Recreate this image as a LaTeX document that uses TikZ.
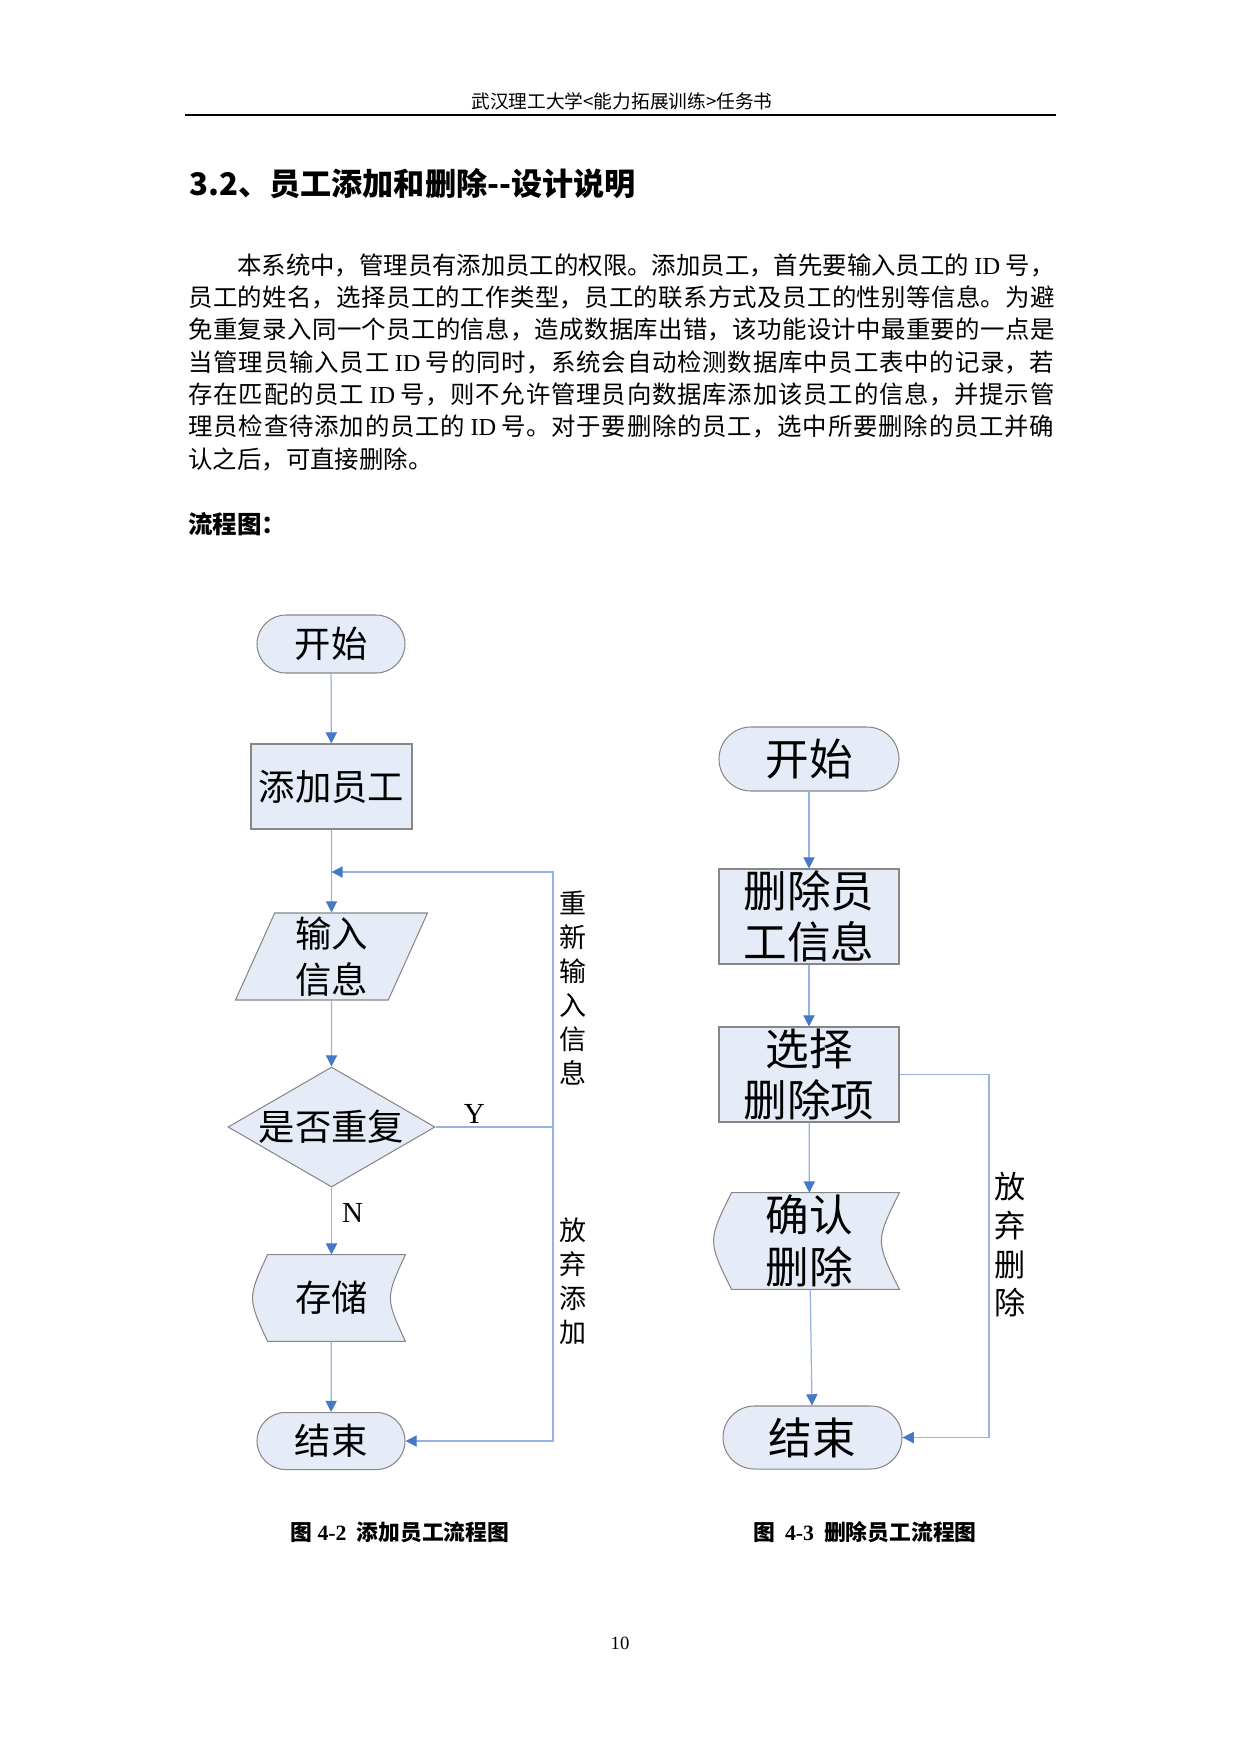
\documentclass[tikz,border=0pt]{standalone}
\usepackage{fontspec}
\setmainfont{Noto Sans CJK SC}
\newfontfamily\tms{Liberation Serif}
\usetikzlibrary{shapes.geometric,arrows.meta,backgrounds}
\XeTeXlinebreaklocale "zh"
\XeTeXlinebreakskip=0pt plus 1pt minus 0.2pt
\newdimen\pxu
\pxu=0.16925mm
\definecolor{boxfill}{RGB}{230,236,247}
\definecolor{boxline}{RGB}{135,135,135}
\definecolor{lineblue}{RGB}{150,180,225}
\definecolor{tipblue}{RGB}{70,120,200}
\tikzset{
    flowbox/.style={draw=boxline, fill=boxfill, line width=0.5pt, inner sep=0pt, align=center},
    termbox/.style={flowbox, rounded corners=#1},
    databox/.style={inner sep=0pt, align=center},
    dataline/.style={draw=boxline, fill=boxfill, line width=0.5pt},
    conn/.style={draw=lineblue, line width=0.6pt},
    arr/.style={conn, -{Triangle[length=1.9mm, width=1.9mm, color=tipblue]}},
    leftfont/.style={font=\fontsize{17.5pt}{22pt}\selectfont},
    rightfont/.style={font=\fontsize{21pt}{24.5pt}\selectfont},
    sidelabel/.style={align=center, inner sep=0pt},
}
\newcommand{\idsp}{\hspace{0.22em}{\tms ID}\hspace{0.22em}}
\begin{document}
\begin{tikzpicture}[x=\pxu, y=-\pxu]
    	\useasboundingbox (0,0) rectangle (1241,1754);
    	
    	\node[font=\fontsize{9pt}{10pt}\selectfont] (header) at (622,101) {武汉理工大学<能力拓展训练>任务书};
    	\draw[line width=1.2pt] (185,115) -- (1056,115);
    	\node[anchor=west, font=\bfseries\fontsize{15pt}{18pt}\selectfont] (title) at (182,184) {3.2、员工添加和删除{-}{-}设计说明};
    	\node[anchor=north west, text width=866\pxu, align=justify, inner sep=0pt, font=\fontsize{11.75pt}{15.6pt}\selectfont] (intro) at (188,253) {\hspace*{2em}本系统中，管理员有添加员工的权限。添加员工，首先要输入员工的\idsp 号，\linebreak 员工的姓名，选择员工的工作类型，员工的联系方式及员工的性别等信息。为避\linebreak 免重复录入同一个员工的信息，造成数据库出错，该功能设计中最重要的一点是\linebreak 当管理员输入员工\idsp 号的同时，系统会自动检测数据库中员工表中的记录，若\linebreak 存在匹配的员工\idsp 号，则不允许管理员向数据库添加该员工的信息，并提示管\linebreak 理员检查待添加的员工的\idsp 号。对于要删除的员工，选中所要删除的员工并确\linebreak 认之后，可直接删除。};
    	\node[anchor=west, font=\bfseries\fontsize{11.8pt}{14pt}\selectfont] (flowtitle) at (181,524) {流程图：};
    	
    	\node[termbox=29\pxu, minimum width=148\pxu, minimum height=58\pxu, leftfont] (startL) at (331,644) {开始};
    	\node[flowbox, minimum width=161\pxu, minimum height=85\pxu, leftfont] (addemp) at (331.5,786.5) {添加员工};
    	\node[flowbox, trapezium, trapezium left angle=63.7, trapezium right angle=116.3, trapezium stretches body, minimum width=192\pxu, minimum height=87\pxu, leftfont] (input) at (331.5,956.5) {输入\\信息};
    	\node[flowbox, diamond, aspect=1.725, minimum width=207\pxu, minimum height=120\pxu, leftfont] (dup) at (331.5,1127) {是否重复};
    	\node[databox, minimum width=147\pxu, minimum height=86\pxu, leftfont] (store) at (331.5,1298) {存储};
    	\node[termbox=28.5\pxu, minimum width=148\pxu, minimum height=57\pxu, leftfont] (endL) at (331,1441) {结束};
    	
    	\node[termbox=32\pxu, minimum width=180\pxu, minimum height=64\pxu, rightfont] (startR) at (809,759) {开始};
    	\node[flowbox, minimum width=180\pxu, minimum height=95\pxu, rightfont] (delinfo) at (809,916.5) {删除员\\工信息};
    	\node[flowbox, minimum width=180\pxu, minimum height=95\pxu, rightfont] (choose) at (809,1074.5) {选择\\删除项};
    	\node[databox, minimum width=179\pxu, minimum height=96\pxu, font=\fontsize{21pt}{25pt}\selectfont] (confirm) at (809.5,1241) {确认\\删除};
    	\node[termbox=31.5\pxu, minimum width=179\pxu, minimum height=63\pxu, rightfont] (endR) at (812.5,1437.5) {结束};
    	
    	\begin{scope}[on background layer]
    	\draw[dataline] ([xshift=10\pxu]store.north west) -- (store.north east) .. controls ([xshift=-20\pxu]store.east) .. (store.south east) -- ([xshift=10\pxu]store.south west) .. controls ([xshift=-10\pxu]store.west) .. ([xshift=10\pxu]store.north west) -- cycle;
    	\draw[dataline] ([xshift=12\pxu]confirm.north west) -- (confirm.north east) .. controls ([xshift=-24\pxu]confirm.east) .. (confirm.south east) -- ([xshift=12\pxu]confirm.south west) .. controls ([xshift=-12\pxu]confirm.west) .. ([xshift=12\pxu]confirm.north west) -- cycle;
    	\end{scope}
    	
    	\coordinate (jn) at (331.5,872);
    	\coordinate (yturn) at (553,1127);
    	\coordinate (ytop) at (553,872);
    	\coordinate (rturn) at (989,1074.5);
    	
    	\path[arr] (startL) edge (addemp);
    	\path[arr] (addemp) edge (input);
    	\path[arr] (input) edge (dup);
    	\path[arr] (dup) edge node[pos=0.38, right=10\pxu, inner sep=0pt, font=\tms\fontsize{14pt}{16pt}\selectfont] (nlab) {N} (store);
    	\path[arr] (store) edge (endL);
    	\draw[conn] (dup.east) -- node[pos=0.33, above=3\pxu, inner sep=0pt, font=\tms\fontsize{14pt}{16pt}\selectfont] (ylab) {Y} (yturn);
    	\draw[arr] (yturn) -- (ytop) -- (jn);
    	\draw[arr] (yturn) |- (endL.east);
    	
    	\path[arr] (startR) edge (delinfo);
    	\path[arr] (delinfo) edge (choose);
    	\path[arr] (choose) edge (confirm);
    	\path[arr] (confirm) edge (endR);
    	\draw[arr] (choose.east) -- (rturn) |- (endR.east);
    	
    	\node[sidelabel, font=\fontsize{13pt}{16.4pt}\selectfont] (relab) at (573,988) {重\\新\\输\\入\\信\\息};
    	\node[sidelabel, font=\fontsize{13pt}{16.4pt}\selectfont] (quitadd) at (573,1281) {放\\弃\\添\\加};
    	\node[sidelabel, font=\fontsize{15pt}{18.6pt}\selectfont] (quitdel) at (1010,1245) {放\\弃\\删\\除};
    	
    	\node[font=\bfseries\fontsize{10.5pt}{12pt}\selectfont] (capadd) at (400,1532) {图 {\tms 4-2}\ \ 添加员工流程图};
    	\node[font=\bfseries\fontsize{10.5pt}{12pt}\selectfont] (capdel) at (865,1532) {图\ \ {\tms 4-3}\ \ 删除员工流程图};
    	\node[font=\tms\fontsize{9pt}{10pt}\selectfont] (pgno) at (620,1643) {10};
    	
\end{tikzpicture}
\end{document}
